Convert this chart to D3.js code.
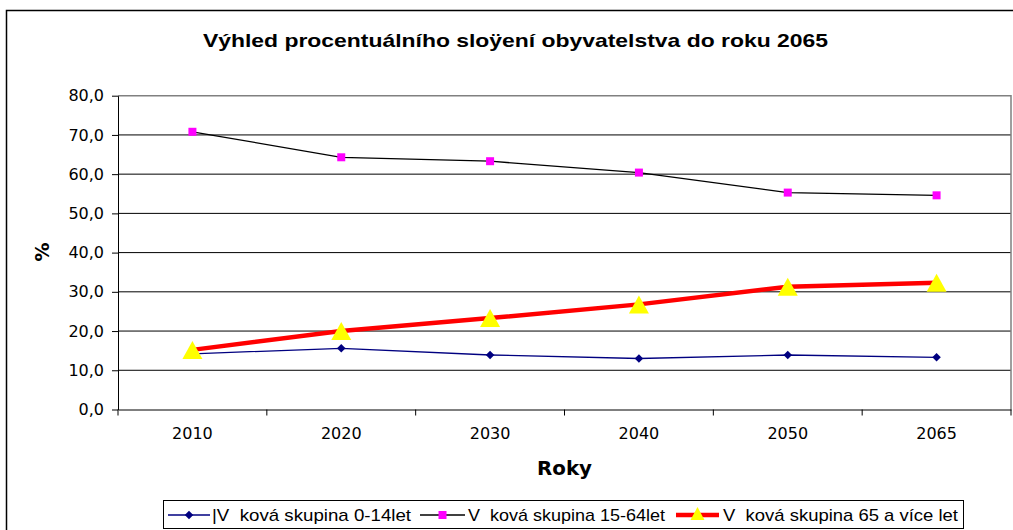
<!DOCTYPE html>
<html><head><meta charset="utf-8">
<script src="https://cdn.jsdelivr.net/npm/d3@7"></script>
<style>body{margin:0;background:#fff}svg{display:block;font-family:"DejaVu Sans",Arial,sans-serif}</style>
</head><body>
<svg id="c" width="1013" height="530"></svg>
<script>
const categories = ["2010","2020","2030","2040","2050","2065"];
const young = [14.2, 15.6, 13.9, 13.0, 13.9, 13.3];
const working = [70.8, 64.3, 63.3, 60.4, 55.3, 54.6];
const old = [15.2, 20.0, 23.3, 26.8, 31.3, 32.3];
const yTicks = [0,10,20,30,40,50,60,70,80];
const seriesNames = ["|V  ková skupina 0-14let","V  ková skupina 15-64let","V  ková skupina 65 a více let"];

const FONT = "'DejaVu Sans',Arial,sans-serif";
const ARIAL = "'Liberation Sans',Arial,sans-serif";
const svg = d3.select("#c");
const L = 118, R = 1011, T = 95.7, B = 409.5;
const x = d3.scaleBand().domain(categories).range([L, R]);
const y = d3.scaleLinear().domain([0, 80]).range([B, T]);

// outer chart border
svg.append("rect").attr("x",6.5).attr("y",10.5).attr("width",1020).attr("height",530).attr("fill","none").attr("stroke","#000").attr("stroke-width",1.5);

// title
svg.append("text").attr("x",515.5).attr("y",47).attr("text-anchor","middle").attr("font-weight","bold").attr("font-size",18.5)
  .attr("font-family",ARIAL).attr("textLength",625).attr("lengthAdjust","spacingAndGlyphs")
  .text("Výhled procentuálního sloÿení obyvatelstva do roku 2065");

// gridlines
svg.append("g").selectAll("line").data(yTicks.filter(d=>d>0 && d<80)).join("line")
  .attr("x1",L).attr("x2",R).attr("y1",d=>y(d)).attr("y2",d=>y(d)).attr("stroke","#000").attr("stroke-width",1);
// plot border top/right gray
svg.append("path").attr("d",`M${L},${T}H${R}V${B}`).attr("fill","none").attr("stroke","#808080").attr("stroke-width",1.5);

// y axis
const fmt = d => d.toFixed(1).replace(".", ",");
const yAxis = svg.append("g").attr("transform",`translate(${L},0)`).call(d3.axisLeft(y).tickValues(yTicks).tickFormat(fmt).tickSize(6).tickSizeOuter(0));
yAxis.attr("font-family",FONT).attr("font-size",16);
yAxis.select(".domain").attr("stroke","#000");
yAxis.selectAll(".tick line").attr("stroke","#000");
yAxis.selectAll("text").attr("fill","#000").attr("x",-14);

// x axis
const xAxis = svg.append("g").attr("transform",`translate(0,${B})`).call(d3.axisBottom(x).tickSize(0).tickSizeOuter(0));
xAxis.attr("font-family",FONT).attr("font-size",16);
xAxis.select(".domain").attr("stroke","#000");
xAxis.selectAll("text").attr("fill","#000").attr("y",18);
// category boundary ticks
const bounds = categories.map(c=>x(c)).concat([R]);
svg.append("g").selectAll("line").data(bounds).join("line")
  .attr("x1",d=>d).attr("x2",d=>d).attr("y1",B).attr("y2",B+6).attr("stroke","#000");

// axis titles
svg.append("text").attr("x",564.5).attr("y",475).attr("text-anchor","middle").attr("font-weight","bold").attr("font-size",19)
  .attr("textLength",55).attr("lengthAdjust","spacingAndGlyphs").text("Roky");
svg.append("text").attr("transform","translate(49,252) rotate(-90)").attr("text-anchor","middle").attr("font-weight","bold").attr("font-size",19).text("%");

const cx = c => x(c) + x.bandwidth()/2;
const line = d3.line().x((d,i)=>cx(categories[i])).y(d=>y(d));

// series lines
svg.append("path").datum(young).attr("d",line).attr("fill","none").attr("stroke","#000080").attr("stroke-width",1.3);
svg.append("path").datum(working).attr("d",line).attr("fill","none").attr("stroke","#000").attr("stroke-width",1.3);
svg.append("path").datum(old).attr("d",line).attr("fill","none").attr("stroke","#ff0000").attr("stroke-width",4.5);

// markers
svg.append("g").selectAll("path").data(young).join("path")
  .attr("d",d3.symbol().type(d3.symbolSquare).size(36)).attr("fill","#000080")
  .attr("transform",(d,i)=>`translate(${cx(categories[i])},${y(d)}) rotate(45)`);
svg.append("g").selectAll("rect").data(working).join("rect")
  .attr("x",(d,i)=>cx(categories[i])-4).attr("y",d=>y(d)-4).attr("width",8).attr("height",8).attr("fill","#ff00ff");
const tri = (px,py)=>`M${px},${py-9}L${px+10},${py+9}L${px-10},${py+9}Z`;
svg.append("g").selectAll("path").data(old).join("path")
  .attr("d",(d,i)=>tri(cx(categories[i]), y(d))).attr("fill","#ffff00");

// legend
const lg = svg.append("g");
lg.append("rect").attr("x",163.5).attr("y",500.5).attr("width",800).attr("height",28).attr("fill","#fff").attr("stroke","#000").attr("stroke-width",1);
const items = [
  {x1:168,x2:210,tx:212,tw:199,color:"#000080",w:1.3,m:"d"},
  {x1:420,x2:465,tx:468,tw:197,color:"#000",w:1.3,m:"s"},
  {x1:676,x2:719,tx:723,tw:235,color:"#ff0000",w:4.5,m:"t"}
];
const ly = 515;
items.forEach((it,k)=>{
  lg.append("line").attr("x1",it.x1).attr("x2",it.x2).attr("y1",ly).attr("y2",ly).attr("stroke",it.color).attr("stroke-width",it.w);
  const mx=(it.x1+it.x2)/2;
  if(it.m==="d") lg.append("path").attr("d",d3.symbol().type(d3.symbolSquare).size(36)).attr("transform",`translate(${mx},${ly}) rotate(45)`).attr("fill","#000080");
  if(it.m==="s") lg.append("rect").attr("x",mx-4).attr("y",ly-4).attr("width",8).attr("height",8).attr("fill","#ff00ff");
  if(it.m==="t") lg.append("path").attr("d",`M${mx},${ly-8}L${mx+7},${ly+5}L${mx-7},${ly+5}Z`).attr("fill","#ffff00");
  lg.append("text").attr("x",it.tx).attr("y",ly+5.5).attr("font-size",17).attr("font-family",ARIAL)
    .attr("textLength",it.tw).attr("lengthAdjust","spacingAndGlyphs").style("white-space","pre").text(seriesNames[k]);
});
</script>
</body></html>
